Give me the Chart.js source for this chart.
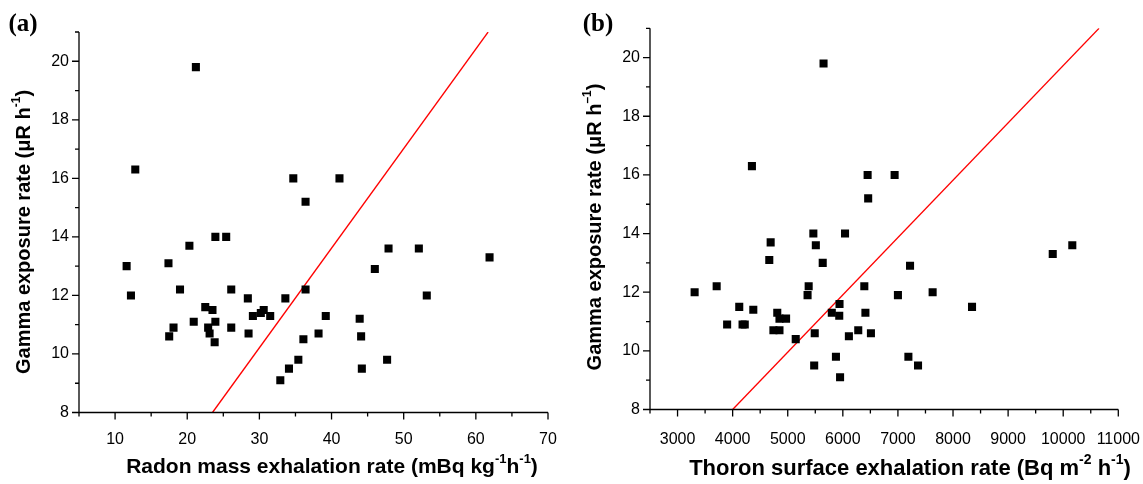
<!DOCTYPE html>
<html>
<head>
<meta charset="utf-8">
<script src="https://cdn.jsdelivr.net/npm/chart.js@4.4.0/dist/chart.umd.min.js"></script>
<style>
  body { margin: 0; background: #fff; }
  #wrap { position: relative; width: 1143px; height: 484px; }
  canvas { position: absolute; top: 0; }
</style>
</head>
<body>
<div id="wrap">
  <canvas id="chartA" width="570" height="484" style="left:0"></canvas>
  <canvas id="chartB" width="573" height="484" style="left:570px"></canvas>
</div>
<script>
// panel (a): radon mass exhalation vs gamma
const radonRate = [21.2, 12.8, 20.3, 23.9, 25.4, 36.4, 11.6, 17.4, 12.2, 19.0, 26.1, 36.4, 28.4, 33.6, 22.5, 23.5,
  29.1, 30.2, 30.6, 31.5, 39.2, 43.9, 47.9, 46.0, 20.9, 23.9, 18.1, 22.9, 26.1, 17.5, 23.1, 28.5, 38.2, 44.1, 23.8,
  36.1, 35.4, 34.1, 32.9, 44.2, 47.7, 34.7, 41.1, 52.1, 61.9, 53.2];
const gammaA = [19.8, 16.3, 13.7, 14.0, 14.0, 15.2, 13.0, 13.1, 12.0, 12.2, 12.2, 12.2, 11.9, 11.9, 11.6, 11.5,
  11.3, 11.4, 11.5, 11.3, 11.3, 11.2, 13.6, 12.9, 11.1, 11.1, 10.9, 10.9, 10.9, 10.6, 10.7, 10.7, 10.7, 10.6, 10.4,
  10.5, 9.8, 9.5, 9.1, 9.5, 9.8, 16.0, 16.0, 13.6, 13.3, 12.0];
const fitAx = [23.5, 61.7];
const fitAy = [8, 21];

// panel (b): thoron surface exhalation vs gamma
const thoronRate = [5650, 4350, 6450, 6460, 4690, 5465, 5510, 6040, 4665, 5635, 7220, 3310, 3710, 5380, 5360, 6390,
  7000, 4120, 4375, 4810, 4850, 4970, 5800, 5940, 5935, 6410, 3900, 4180, 4220, 4740, 4850, 5145, 5490, 6110, 6280,
  6510, 5875, 5480, 5950, 7190, 7365, 7630, 6940, 9810, 10165, 8345];
const gammaB = [19.8, 16.3, 16.0, 15.2, 13.7, 14.0, 13.6, 14.0, 13.1, 13.0, 12.9, 12.0, 12.2, 12.2, 11.9, 12.2,
  11.9, 11.5, 11.4, 11.3, 11.1, 11.1, 11.3, 11.6, 11.2, 11.3, 10.9, 10.9, 10.9, 10.7, 10.7, 10.4, 10.6, 10.5, 10.7,
  10.6, 9.8, 9.5, 9.1, 9.8, 9.5, 12.0, 16.0, 13.3, 13.6, 11.5];
const fitBx = [4000, 10650];
const fitBy = [8, 21];

const SANS = '"Liberation Sans", Arial, sans-serif';

function drawRich(ctx, parts, cx, cy, size) {
  const base = `bold ${size}px ${SANS}`;
  const sup = `bold ${Math.round(size * 0.62)}px ${SANS}`;
  let w = 0;
  parts.forEach(p => { ctx.font = p[1] ? sup : base; w += ctx.measureText(p[0]).width; });
  let x = cx - w / 2;
  ctx.textAlign = 'left';
  ctx.textBaseline = 'middle';
  parts.forEach(p => {
    ctx.font = p[1] ? sup : base;
    ctx.fillText(p[0], x, p[1] ? cy - size * 0.38 : cy);
    x += ctx.measureText(p[0]).width;
  });
}

const axesPlugin = {
  id: 'axes',
  afterDraw(chart, args, o) {
    const {ctx, chartArea: a, scales: {x, y}} = chart;
    ctx.save();
    ctx.strokeStyle = '#000';
    ctx.lineWidth = 1.3;
    ctx.beginPath();
    ctx.moveTo(a.left, a.top);
    ctx.lineTo(a.left, a.bottom);
    ctx.lineTo(a.right, a.bottom);
    x.ticks.forEach(t => {
      const px = x.getPixelForValue(t.value);
      ctx.moveTo(px, a.bottom);
      ctx.lineTo(px, a.bottom + (t.value % o.xMajor === 0 ? 7 : 4));
    });
    y.ticks.forEach(t => {
      const py = y.getPixelForValue(t.value);
      ctx.moveTo(a.left, py);
      ctx.lineTo(a.left - (t.value % 2 === 0 ? 7 : 4), py);
    });
    ctx.stroke();

    ctx.fillStyle = '#000';
    drawRich(ctx, o.xTitle, o.xTitlePos[0], o.xTitlePos[1], o.xTitleSize);
    ctx.save();
    ctx.translate(o.yTitlePos[0], o.yTitlePos[1]);
    ctx.rotate(-Math.PI / 2);
    drawRich(ctx, o.yTitle, 0, 0, 20);
    ctx.restore();

    ctx.font = 'bold 25px "Liberation Serif", "Times New Roman", serif';
    ctx.textAlign = 'center';
    ctx.textBaseline = 'middle';
    ctx.fillText(o.label, o.labelPos[0], o.labelPos[1]);
    ctx.restore();
  }
};

function makeChart(id, xs, ys, fx, fy, xr, yAxisW, xAxisH, pad, tickPad, axOpts) {
  return new Chart(document.getElementById(id), {
    type: 'scatter',
    data: {
      datasets: [
        {
          data: xs.map((v, i) => ({x: v, y: ys[i]})),
          pointStyle: 'rect',
          pointRadius: 5.7,
          backgroundColor: '#000',
          borderWidth: 0
        },
        {
          type: 'line',
          data: fx.map((v, i) => ({x: v, y: fy[i]})),
          borderColor: '#ff0000',
          borderWidth: 1.3,
          pointRadius: 0,
          fill: false
        }
      ]
    },
    options: {
      responsive: false,
      devicePixelRatio: 1,
      animation: false,
      layout: {padding: pad},
      plugins: {legend: {display: false}, tooltip: {enabled: false}, axes: axOpts},
      scales: {
        x: {
          type: 'linear', min: xr[0], max: xr[1],
          grid: {display: false, drawTicks: false},
          border: {display: false},
          ticks: {
            stepSize: xr[2], autoSkip: false, maxRotation: 0, minRotation: 0, padding: tickPad,
            color: '#000', font: {family: SANS, size: 16},
            callback: v => (v % axOpts.xMajor === 0 ? String(v) : '')
          },
          afterFit: s => { s.height = xAxisH; s.paddingLeft = 0; s.paddingRight = 0; }
        },
        y: {
          min: 8, max: 21,
          grid: {display: false, drawTicks: false},
          border: {display: false},
          ticks: {
            stepSize: 1, autoSkip: false, padding: 10,
            color: '#000', font: {family: SANS, size: 16},
            callback: v => (v % 2 === 0 ? String(v) : '')
          },
          afterFit: s => { s.width = yAxisW; s.paddingTop = 0; s.paddingBottom = 0; }
        }
      }
    },
    plugins: [axesPlugin]
  });
}

makeChart('chartA', radonRate, gammaA, fitAx, fitAy, [5, 70, 5], 79, 71.5,
  {top: 32, right: 22, left: 0, bottom: 0}, 17, {
    xMajor: 10,
    xTitle: [['Radon mass exhalation rate (mBq kg'], ['-1', true], ['h'], ['-1', true], [')']],
    xTitlePos: [332, 467], xTitleSize: 21,
    yTitle: [['Gamma exposure rate (\u03bcR h'], ['-1', true], [')']],
    yTitlePos: [24.5, 232],
    label: '(a)', labelPos: [23, 25]
  });

makeChart('chartB', thoronRate, gammaB, fitBx, fitBy, [2500, 11000, 500], 80, 74.5,
  {top: 28.3, right: 24.7, left: 0, bottom: 0}, 20, {
    xMajor: 1000,
    xTitle: [['Thoron surface exhalation rate (Bq m'], ['-2', true], [' h'], ['-1', true], [')']],
    xTitlePos: [340, 469], xTitleSize: 22,
    yTitle: [['Gamma exposure rate (\u03bcR h'], ['\u20131', true], [')']],
    yTitlePos: [25, 227],
    label: '(b)', labelPos: [28, 25]
  });
</script>
</body>
</html>
